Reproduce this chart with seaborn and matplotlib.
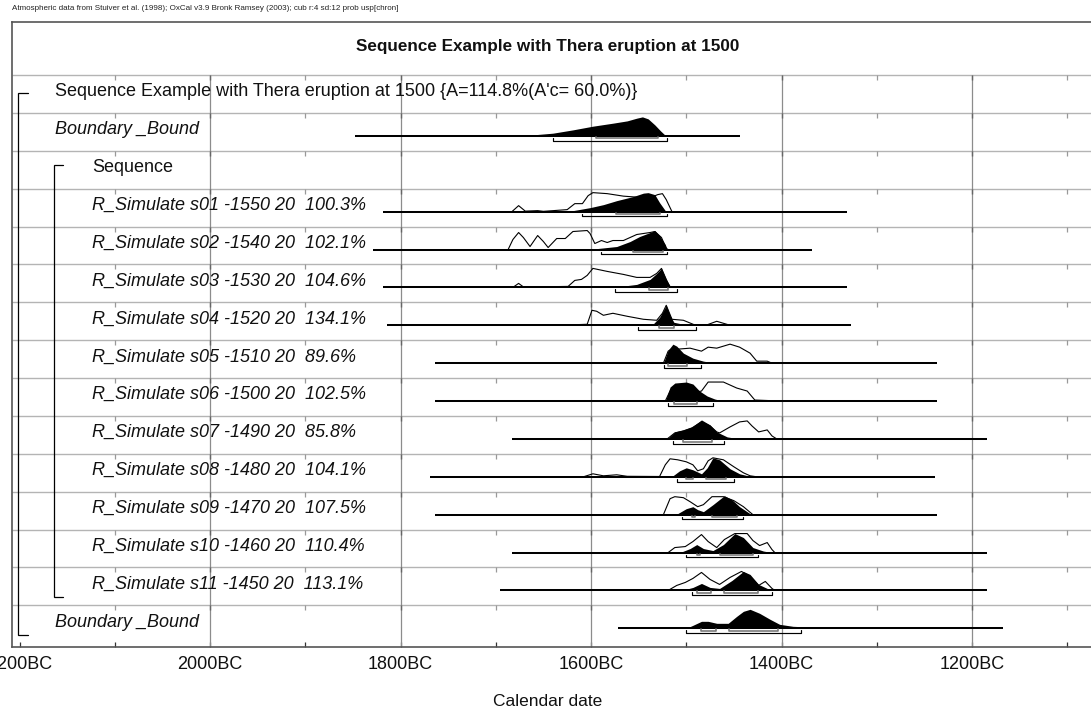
import matplotlib
matplotlib.use("Agg")
import matplotlib.pyplot as plt
import numpy as np
import pandas as pd
import seaborn as sns

# ---------------- text ----------------
header = ("Atmospheric data from Stuiver et al. (1998); OxCal v3.9 Bronk Ramsey (2003); "
          "cub r:4 sd:12 prob usp[chron]")
title = "Sequence Example with Thera eruption at 1500"
x_label = "Calendar date"
tick_years = [2200, 2000, 1800, 1600, 1400, 1200]
tick_labels = ["2200BC", "2000BC", "1800BC", "1600BC", "1400BC", "1200BC"]
minor_years = [2100, 1900, 1700, 1500, 1300, 1100]

row_labels = [
    "Sequence Example with Thera eruption at 1500 {A=114.8%(A'c= 60.0%)}",
    "Boundary _Bound",
    "Sequence",
    "R_Simulate s01 -1550 20  100.3%",
    "R_Simulate s02 -1540 20  102.1%",
    "R_Simulate s03 -1530 20  104.6%",
    "R_Simulate s04 -1520 20  134.1%",
    "R_Simulate s05 -1510 20  89.6%",
    "R_Simulate s06 -1500 20  102.5%",
    "R_Simulate s07 -1490 20  85.8%",
    "R_Simulate s08 -1480 20  104.1%",
    "R_Simulate s09 -1470 20  107.5%",
    "R_Simulate s10 -1460 20  110.4%",
    "R_Simulate s11 -1450 20  113.1%",
    "Boundary _Bound",
]
row_level = [1, 1, 2, 2, 2, 2, 2, 2, 2, 2, 2, 2, 2, 2, 1]
row_italic = [False, True, False] + [True] * 12

# ---------------- data (years BC, relative probability) ----------------
bound1_span = (1848, 1444)
bound1_post = [(1709, 0), (1661, 1), (1640, 2.7), (1619, 6), (1598, 9.7), (1577, 12.7),
               (1562, 15), (1552, 17.7), (1546, 19), (1540, 17), (1533, 11), (1527, 5),
               (1522, 0.5), (1521, 0)]
bound1_r68 = [(1595, 1530)]
bound1_r95 = [(1640, 1520)]

s01_span = (1818, 1331)
s01_post = [(1622, 0.5), (1601, 4), (1587, 7), (1573, 11), (1556, 15), (1545, 18.5),
            (1540, 19), (1533, 17), (1528, 9), (1522, 1), (1521, 0)]
s01_like = [(1683, 0), (1676, 6), (1669, 0.5), (1656, 1), (1650, 0.3), (1625, 2), (1617, 8),
            (1609, 8), (1603, 16), (1598, 19), (1583, 18), (1566, 15.5), (1552, 14.5),
            (1541, 14), (1535, 15), (1530, 17), (1525, 18), (1521, 12), (1515, 0)]
s01_r68 = [(1574, 1528)]
s01_r95 = [(1609, 1520)]

s02_span = (1829, 1368)
s02_post = [(1598, 0.5), (1573, 3), (1559, 8), (1549, 13), (1538, 17), (1533, 19),
            (1528, 14), (1522, 5), (1520, 0)]
s02_like = [(1687, 0), (1682, 10), (1676, 17), (1671, 12), (1664, 3), (1656, 14), (1650, 8),
            (1645, 2), (1636, 11), (1627, 11), (1619, 18), (1604, 19), (1601, 16), (1596, 6),
            (1589, 9), (1583, 7), (1577, 9), (1566, 9), (1552, 15), (1538, 17), (1533, 18),
            (1526, 12), (1521, 1), (1519, 0)]
s02_r68 = [(1556, 1524)]
s02_r95 = [(1590, 1520)]

s03_span = (1818, 1331)
s03_post = [(1573, 0.5), (1552, 3), (1538, 8), (1531, 14), (1526, 19), (1521, 8), (1516, 0)]
s03_like = [(1682, 0), (1676, 4), (1671, 0.5), (1656, 0.5), (1624, 1), (1617, 7), (1610, 8),
            (1604, 12), (1598, 19), (1583, 16), (1566, 13), (1552, 10), (1538, 10),
            (1531, 14), (1526, 19), (1521, 8), (1517, 0)]
s03_r68 = [(1539, 1519)]
s03_r95 = [(1575, 1510)]

s04_span = (1814, 1327)
s04_post = [(1535, 1), (1528, 8), (1521, 20), (1517, 10), (1513, 3), (1503, 1), (1496, 0)]
s04_like = [(1619, 0.5), (1604, 1), (1599, 15), (1594, 14), (1587, 10), (1577, 12),
            (1562, 9), (1545, 6), (1531, 5), (1525, 12), (1521, 20), (1515, 6), (1503, 5),
            (1491, 0.3), (1478, 0.5), (1468, 4), (1454, 0)]
s04_r68 = [(1529, 1513)]
s04_r95 = [(1551, 1490)]

s05_span = (1764, 1237)
s05_post = [(1524, 0), (1519, 13), (1514, 19), (1510, 17), (1503, 10), (1493, 5), (1482, 2),
            (1472, 0.5), (1465, 0)]
s05_like = [(1524, 0), (1519, 12), (1514, 15), (1509, 14), (1496, 15), (1484, 12), (1477, 16),
            (1468, 15), (1454, 19), (1444, 16), (1433, 10), (1426, 2), (1415, 2), (1410, 0)]
s05_r68 = [(1519, 1499)]
s05_r95 = [(1523, 1485)]

s06_span = (1764, 1237)
s06_post = [(1522, 0), (1517, 14), (1512, 18), (1500, 19), (1493, 17), (1486, 10), (1478, 5),
            (1470, 2), (1461, 0)]
s06_like = [(1522, 0), (1517, 10), (1512, 14), (1500, 12), (1489, 9), (1484, 10), (1477, 19),
            (1461, 19), (1447, 13), (1436, 10), (1428, 1), (1414, 0.5), (1409, 0)]
s06_r68 = [(1513, 1489)]
s06_r95 = [(1519, 1472)]

s07_span = (1683, 1184)
s07_post = [(1520, 0), (1512, 7), (1503, 9), (1494, 12), (1484, 19), (1475, 14), (1468, 7),
            (1457, 2), (1447, 0.5), (1440, 0)]
s07_like = [(1520, 0), (1512, 6), (1503, 8), (1494, 11), (1484, 17), (1475, 13), (1468, 7),
            (1465, 6), (1454, 12), (1444, 17), (1436, 18), (1431, 13), (1424, 7), (1415, 9),
            (1410, 3), (1405, 0)]
s07_r68 = [(1503, 1473)]
s07_r95 = [(1514, 1460)]

s08_span = (1769, 1239)
s08_post = [(1514, 1), (1507, 6), (1500, 9), (1493, 7), (1484, 3), (1478, 9), (1472, 19),
            (1465, 17), (1454, 8), (1444, 3), (1433, 0.5), (1426, 0)]
s08_like = [(1608, 0), (1598, 3), (1587, 1), (1573, 2), (1562, 0.5), (1528, 0.3), (1522, 12),
            (1517, 18), (1509, 17), (1500, 15), (1493, 12), (1488, 6), (1482, 8), (1477, 16),
            (1472, 19), (1461, 17), (1450, 10), (1440, 4), (1433, 1), (1426, 0)]
s08_r68 = [(1500, 1493), (1479, 1458)]
s08_r95 = [(1510, 1450)]

s09_span = (1764, 1237)
s09_post = [(1510, 0.5), (1500, 6), (1493, 8), (1488, 5), (1482, 3), (1472, 10), (1460, 19),
            (1452, 15), (1444, 8), (1433, 1), (1426, 0)]
s09_like = [(1524, 0), (1517, 16), (1512, 18), (1503, 17), (1496, 13), (1488, 8), (1482, 10),
            (1473, 18), (1461, 18), (1450, 14), (1440, 8), (1430, 0)]
s09_r68 = [(1494, 1491), (1473, 1447)]
s09_r95 = [(1504, 1440)]

s10_span = (1683, 1184)
s10_post = [(1504, 1), (1496, 4), (1489, 8), (1482, 4), (1472, 2), (1461, 8), (1449, 19),
            (1440, 15), (1430, 5), (1419, 1.5), (1410, 0)]
s10_like = [(1519, 0), (1512, 5), (1501, 6), (1493, 11), (1484, 18), (1477, 11), (1468, 5),
            (1460, 13), (1449, 19), (1436, 19), (1430, 12), (1423, 7), (1415, 10), (1410, 3),
            (1407, 0)]
s10_r68 = [(1489, 1486), (1465, 1430)]
s10_r95 = [(1500, 1425)]

s11_span = (1696, 1184)
s11_post = [(1501, 1), (1493, 3), (1484, 7), (1475, 3), (1465, 2), (1452, 10), (1440, 19),
            (1433, 16), (1424, 6), (1415, 2), (1409, 0)]
s11_like = [(1519, 0), (1510, 5), (1501, 8), (1493, 12), (1484, 18), (1475, 11), (1465, 6),
            (1454, 13), (1442, 19), (1433, 14), (1424, 5), (1417, 9), (1410, 2), (1407, 0)]
s11_r68 = [(1489, 1474), (1460, 1425)]
s11_r95 = [(1494, 1410)]

bound2_span = (1572, 1167)
bound2_post = [(1500, 0), (1493, 3), (1484, 7), (1477, 7), (1468, 5), (1456, 5), (1447, 12),
               (1440, 17), (1433, 19), (1423, 15), (1412, 9), (1402, 4), (1388, 2), (1363, 1),
               (1328, 0.3), (1293, 0)]
bound2_r68 = [(1485, 1469), (1455, 1404)]
bound2_r95 = [(1500, 1380)]

# row index -> (span, posterior, likelihood, 68% ranges, 95% ranges)
dists = {
    1: (bound1_span, bound1_post, None, bound1_r68, bound1_r95),
    3: (s01_span, s01_post, s01_like, s01_r68, s01_r95),
    4: (s02_span, s02_post, s02_like, s02_r68, s02_r95),
    5: (s03_span, s03_post, s03_like, s03_r68, s03_r95),
    6: (s04_span, s04_post, s04_like, s04_r68, s04_r95),
    7: (s05_span, s05_post, s05_like, s05_r68, s05_r95),
    8: (s06_span, s06_post, s06_like, s06_r68, s06_r95),
    9: (s07_span, s07_post, s07_like, s07_r68, s07_r95),
    10: (s08_span, s08_post, s08_like, s08_r68, s08_r95),
    11: (s09_span, s09_post, s09_like, s09_r68, s09_r95),
    12: (s10_span, s10_post, s10_like, s10_r68, s10_r95),
    13: (s11_span, s11_post, s11_like, s11_r68, s11_r95),
    14: (bound2_span, bound2_post, None, bound2_r68, bound2_r95),
}

# ---------------- layout ----------------
sns.set_theme(style="white")
plt.rcParams["font.family"] = ["Liberation Sans", "DejaVu Sans"]

W, H, DPI = 1091, 713, 100
fig = plt.figure(figsize=(W / DPI, H / DPI), dpi=DPI)
ROW_PX = 37.88
PX_PER_YR = 0.9525
ax_left_px, ax_right_px, ax_top_px, ax_bot_px = 12, 1100, 22, 646.7
ax = fig.add_axes([ax_left_px / W, (H - ax_bot_px) / H,
                   (ax_right_px - ax_left_px) / W, (ax_bot_px - ax_top_px) / H])


def px2yr(px):
    return 2000 - (px - 210) / PX_PER_YR


PX = 1.0 / ROW_PX  # one vertical pixel in row units
n_rows = len(row_labels)
y_top = -(75 - ax_top_px) / ROW_PX
y_bot = (ax_bot_px - 75) / ROW_PX

# grid
ax.hlines(np.arange(n_rows), px2yr(ax_left_px), px2yr(ax_right_px), color="#b4b4b4", lw=1.0, zorder=1)
ax.vlines([2000, 1800, 1600, 1400, 1200], 0, y_bot, color="#8c8c8c", lw=0.9, zorder=1)
for i in range(n_rows):
    ax.vlines(minor_years, i, i + 5 * PX, color="#999999", lw=0.9, zorder=1)
    ax.vlines([2000, 1800, 1600, 1400, 1200], i, i + 5 * PX, color="#666666", lw=1.0, zorder=1)

# brackets
for (x0, x1, r_top, r_bot, top_off) in [(18, 28, 0, 14, 0.475), (54, 63, 2, 13, 0.376)]:
    ax.plot([px2yr(x1), px2yr(x0), px2yr(x0), px2yr(x1)],
            [r_top + top_off, r_top + top_off, r_bot + 0.78, r_bot + 0.78],
            color="black", lw=0.9, zorder=3, solid_joinstyle="miter")

# labels
for i, lab in enumerate(row_labels):
    xpx = 55 if row_level[i] == 1 else 92
    ax.text(px2yr(xpx), i + 0.56, lab, fontsize=13, va="baseline", ha="left",
            style="italic" if row_italic[i] else "normal", color="#111111", zorder=4)

# distributions
like_records = []
for i, (span, post, like, r68, r95) in dists.items():
    base = i + 23 * PX
    ax.plot([span[0], span[1]], [base, base], color="black", lw=1.45, zorder=3,
            solid_capstyle="butt")
    py = np.array([p[0] for p in post], float)
    ph = np.array([p[1] for p in post], float)
    ax.fill_between(py, base, base - ph * PX, color="black", lw=0, zorder=2.5)
    if like is not None:
        for yr, h in like:
            like_records.append({"year": yr, "y": base - h * PX, "curve": i})
    for a, b in r68:
        ax.plot([a, a, b, b], [base + 1 * PX, base + 2.6 * PX, base + 2.6 * PX, base + 1 * PX],
                color="#7a7a7a", lw=1.2, zorder=3)
    for a, b in r95:
        ax.plot([a, a, b, b], [base + 2 * PX, base + 4.8 * PX, base + 4.8 * PX, base + 2 * PX],
                color="black", lw=0.85, zorder=3)

like_df = pd.DataFrame(like_records)
sns.lineplot(data=like_df, x="year", y="y", units="curve", estimator=None, sort=False,
             color="black", lw=0.8, ax=ax, legend=False, zorder=3)

# title
ax.text(px2yr(548), -(75 - 47) / ROW_PX, title, fontsize=12.3, fontweight="bold",
        ha="center", va="center", color="#111111")

ax.set_xlim(px2yr(ax_left_px), px2yr(ax_right_px))
ax.set_ylim(y_bot, y_top)
ax.set_xlabel("")
ax.set_ylabel("")
ax.set_yticks([])
ax.set_xticks(tick_years)
ax.set_xticklabels(tick_labels, fontsize=13, color="#111111")
ax.set_xticks(minor_years, minor=True)
ax.tick_params(axis="x", which="both", direction="in", length=3.6, width=0.9,
               color="#333333", pad=7, bottom=True)
for side in ["top", "left", "bottom"]:
    ax.spines[side].set_visible(True)
    ax.spines[side].set_color("#555555")
    ax.spines[side].set_linewidth(1.2)
ax.spines["right"].set_visible(False)

fig.text(12 / W, 1 - 8 / H, header, fontsize=5.8, va="center", ha="left", color="#222222")
fig.text(548 / W, 1 - 701 / H, x_label, fontsize=12.5, va="center", ha="center", color="#111111")

fig.savefig("out.png", dpi=DPI)
